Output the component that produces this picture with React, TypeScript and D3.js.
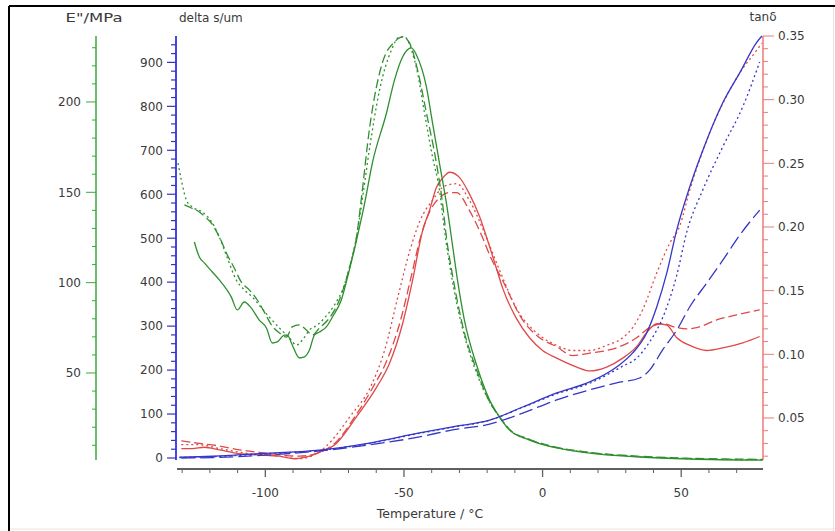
import React from "react";
import * as d3 from "d3";

// ---- data (temperature °C, value) ----
const greenTail: [number, number][] = [[-11.9, 18.4], [-4.7, 12.9], [5.1, 8.5], [17.0, 5.7], [35.0, 3.5], [53.1, 2.4], [79.4, 1.8]];

const greenSolid: [number, number][] = [
  [-125.6, 122.5], [-123.8, 114.2], [-122.0, 110.9], [-119.1, 105.9], [-116.6, 101.5], [-112.3, 92.1], [-110.1, 84.9],
  [-107.6, 89.3], [-105.1, 86.0], [-102.2, 79.3], [-99.6, 74.9], [-97.5, 66.6], [-95.7, 67.2], [-93.1, 71.0], [-92.1, 71.0],
  [-90.3, 65.5], [-87.7, 58.3], [-85.9, 58.9], [-84.1, 62.7], [-82.3, 71.0], [-80.5, 72.7], [-78.0, 75.5], [-75.8, 81.0],
  [-72.6, 90.4], [-69.7, 107.0], [-67.1, 123.6], [-64.3, 143.0], [-61.4, 166.2], [-56.3, 193.9], [-53.4, 212.2],
  [-50.5, 224.9], [-47.3, 229.9], [-45.5, 226.0], [-41.9, 208.3], [-39.7, 188.4], [-37.2, 166.2], [-34.7, 144.1],
  [-32.5, 120.9], [-30.7, 101.5], [-28.2, 79.3], [-23.8, 54.4], [-19.1, 35.0], [-15.5, 25.6],
];
const greenDashed: [number, number][] = [
  [-129.2, 143.0], [-126.7, 141.3], [-123.8, 139.1], [-121.3, 135.8], [-119.5, 133.0], [-116.6, 125.3], [-113.7, 115.3],
  [-111.2, 108.1], [-108.7, 100.4], [-105.8, 96.0], [-102.9, 90.4], [-100.4, 83.8], [-97.8, 76.6], [-94.9, 72.1],
  [-92.4, 69.9], [-90.3, 75.5], [-87.7, 76.6], [-85.2, 73.8], [-83.0, 71.0], [-80.5, 74.9], [-76.9, 80.4], [-73.3, 90.4],
  [-69.7, 108.1], [-67.1, 125.3], [-65.3, 147.4], [-62.5, 184.5], [-57.8, 221.6], [-53.4, 233.2], [-50.5, 236.0],
  [-48.0, 232.7], [-45.1, 217.7], [-41.9, 193.9], [-38.3, 166.2], [-36.1, 144.1], [-34.7, 125.3], [-32.5, 104.2],
  [-28.9, 76.6], [-23.8, 51.7], [-19.1, 34.0], [-15.5, 25.6],
];
const greenDotted: [number, number][] = [
  [-131.5, 166.2], [-130.3, 156.8], [-128.5, 145.8], [-126.4, 141.9], [-122.7, 139.1], [-119.1, 133.0], [-116.6, 125.3],
  [-113.7, 113.7], [-110.5, 101.5], [-107.6, 96.0], [-104.7, 92.1], [-101.4, 86.0], [-98.6, 81.0], [-94.9, 74.9],
  [-91.3, 69.4], [-88.8, 65.5], [-86.6, 68.3], [-84.1, 73.8], [-81.2, 76.6], [-78.7, 80.4], [-75.1, 87.6], [-71.5, 98.7],
  [-69.0, 112.5], [-67.1, 125.3], [-65.3, 143.0], [-62.5, 173.4], [-58.8, 206.6], [-54.5, 228.8], [-51.6, 236.0],
  [-49.8, 236.0], [-47.3, 228.8], [-45.1, 216.1], [-42.6, 193.9], [-39.7, 169.6], [-37.2, 151.3], [-35.4, 129.2],
  [-32.9, 104.2], [-29.2, 76.6], [-24.2, 51.7], [-19.1, 34.0], [-15.5, 25.6],
];

const redSolid: [number, number][] = [
  [-130.3, 0.026], [-126.4, 0.026], [-122.0, 0.027], [-116.6, 0.025], [-109.4, 0.022], [-102.2, 0.021], [-94.9, 0.020],
  [-89.5, 0.018], [-85.9, 0.019], [-80.5, 0.023], [-74.4, 0.030], [-67.1, 0.051], [-59.9, 0.074], [-55.2, 0.093],
  [-50.5, 0.124], [-46.9, 0.158], [-43.3, 0.197], [-40.8, 0.213], [-38.3, 0.231], [-35.4, 0.240], [-33.6, 0.243],
  [-30.0, 0.239], [-26.4, 0.226], [-22.7, 0.208], [-20.2, 0.192], [-17.0, 0.170], [-14.4, 0.152], [-9.4, 0.128],
  [-4.7, 0.113], [0, 0.103], [5.1, 0.097], [12.3, 0.090], [17.0, 0.087], [23.1, 0.090], [28.9, 0.097], [33.9, 0.106],
  [37.5, 0.117], [41.2, 0.124], [44.8, 0.123], [48.4, 0.113], [53.1, 0.107], [59.2, 0.103], [65.0, 0.105], [72.2, 0.109],
  [78.3, 0.114],
];
const redDashed: [number, number][] = [
  [-130.3, 0.032], [-123.8, 0.030], [-116.6, 0.028], [-109.4, 0.025], [-102.2, 0.023], [-94.9, 0.021], [-87.7, 0.020],
  [-80.5, 0.023], [-74.5, 0.031], [-68.0, 0.050], [-61.5, 0.073], [-56.0, 0.096], [-51.2, 0.127], [-47.5, 0.160],
  [-44.0, 0.192], [-40.5, 0.213], [-37.2, 0.223], [-33.6, 0.227], [-31.0, 0.227], [-26.4, 0.213], [-21.7, 0.192],
  [-19.1, 0.178], [-14.4, 0.158], [-7.2, 0.127], [-1.1, 0.113], [5.1, 0.106], [10.8, 0.099], [17.0, 0.101], [23.1, 0.103],
  [28.9, 0.107], [33.9, 0.113], [38.6, 0.121], [43.3, 0.124], [48.4, 0.121], [52.0, 0.120], [55.6, 0.121], [62.8, 0.127],
  [70.0, 0.131], [78.3, 0.135],
];
const redDotted: [number, number][] = [
  [-130.3, 0.029], [-123.8, 0.029], [-116.6, 0.026], [-105.8, 0.022], [-94.9, 0.020], [-87.7, 0.018], [-78.5, 0.027],
  [-69.5, 0.051], [-61.5, 0.077], [-57.0, 0.103], [-52.2, 0.145], [-47.8, 0.182], [-44.2, 0.205], [-39.7, 0.221],
  [-35.4, 0.232], [-31.0, 0.234], [-26.4, 0.221], [-20.9, 0.195], [-15.5, 0.166], [-9.4, 0.136], [-1.1, 0.115],
  [5.1, 0.107], [10.8, 0.103], [17.0, 0.103], [23.1, 0.107], [28.9, 0.113], [32.5, 0.121], [36.1, 0.135], [41.2, 0.164],
  [45.8, 0.187], [49.5, 0.201], [53.1, 0.229], [59.2, 0.268], [65.0, 0.297], [71.1, 0.321], [77.3, 0.339], [79.1, 0.3445],
];

const blueSolid: [number, number][] = [
  [-131, 2], [-119.1, 4], [-98.6, 11], [-80.5, 18], [-62.5, 34], [-44.4, 57], [-32.5, 71], [-19.1, 86], [-7.2, 116],
  [5.1, 148], [17.0, 173], [26.7, 207], [32.5, 239], [37.5, 284], [41.2, 344], [44.8, 421], [48.4, 519], [53.1, 617],
  [59.2, 723], [65.0, 808], [71.1, 876], [77.3, 946], [79.1, 960],
];
const blueDotted: [number, number][] = [
  [-131, 1], [-119.1, 3], [-98.6, 10], [-80.5, 17], [-62.5, 33], [-44.4, 56], [-32.5, 70], [-19.1, 86], [-7.2, 115],
  [5.1, 146], [17.0, 170], [28.9, 209], [33.9, 227], [38.6, 264], [43.3, 319], [48.4, 416], [52.0, 514], [57.8, 610],
  [65.0, 708], [72.2, 799], [78.3, 901],
];
const blueDashed: [number, number][] = [
  [-130.3, 0], [-119.1, 1], [-98.6, 7], [-80.5, 16], [-62.5, 30], [-44.4, 48], [-32.5, 64], [-19.1, 77], [-7.2, 102],
  [5.1, 132], [17.0, 155], [26.7, 171], [35.0, 182], [38.6, 200], [43.3, 246], [48.4, 291], [53.1, 344], [59.2, 398],
  [65.0, 450], [71.1, 507], [78.3, 564],
];

// ---- ticks ----
const xMajor = [-100, -50, 0, 50];
const xMinor = d3.range(-130, 80, 10);
const eMajor = [50, 100, 150, 200];
const eMinor = d3.range(10, 240, 10);
const dMajor = d3.range(0, 1000, 100);
const dMinor = d3.range(20, 960, 20);
const rMajor = [0.05, 0.1, 0.15, 0.2, 0.25, 0.3, 0.35];
const rMinor = d3.range(2, 35, 1).map((v) => v / 100);

const GREEN = "#2f8f2f";
const BLUE = "#3535c8";
const RED = "#e04848";
const FONT = "DejaVu Sans, Verdana, sans-serif";
const TXT = "#3a3a3a";

export default function App() {
  const x = d3.scaleLinear().domain([-131.5, 79.5]).range([178, 763]);
  const yE = d3.scaleLinear().domain([1.85, 236.5]).range([460, 36]);
  const yD = d3.scaleLinear().domain([0, 960]).range([458, 36]);
  const yR = d3.scaleLinear().domain([0.017, 0.35]).range([460, 36]);

  const mk = (ys: d3.ScaleLinear<number, number>) =>
    d3.line<[number, number]>().x((d) => x(d[0])).y((d) => ys(d[1])).curve(d3.curveMonotoneX);
  const lE = mk(yE), lD = mk(yD), lR = mk(yR);

  const ax = { eX: 96, dX: 176, rX: 763, xY: 469 };
  const fmtR = (v: number) => v.toFixed(2);
  const near = (a: number, arr: number[]) => arr.some((b) => Math.abs(a - b) < 1e-9);

  const series = [
    { d: lR(redSolid), c: RED, dash: "" },
    { d: lR(redDashed), c: RED, dash: "9 4" },
    { d: lR(redDotted), c: RED, dash: "2 3" },
    { d: lE(greenSolid.concat(greenTail)), c: GREEN, dash: "" },
    { d: lE(greenDashed.concat(greenTail.map((p) => [p[0], p[1] + 0.4] as [number, number]))), c: GREEN, dash: "9 4" },
    { d: lE(greenDotted.concat(greenTail.map((p) => [p[0], p[1] + 0.2] as [number, number]))), c: GREEN, dash: "2 3" },
    { d: lD(blueSolid), c: BLUE, dash: "" },
    { d: lD(blueDashed), c: BLUE, dash: "14 5" },
    { d: lD(blueDotted), c: BLUE, dash: "2 3" },
  ];

  return (
    <svg width={835} height={531} style={{ position: "absolute", left: 0, top: 0, background: "#fff" }} fontFamily={FONT}>
      <rect x={0} y={0} width={835} height={531} fill="#fff" />
      {/* frame */}
      <line x1={9} y1={6} x2={835} y2={6} stroke="#000" strokeWidth={2} />
      <line x1={9} y1={6} x2={9} y2={531} stroke="#000" strokeWidth={2} />
      <line x1={10} y1={529} x2={835} y2={529} stroke="#e4e4e4" strokeWidth={1} />
      <line x1={833.5} y1={7} x2={833.5} y2={531} stroke="#e4e4e4" strokeWidth={1} />

      {/* axis titles */}
      <text x={94} y={22} fontSize={12} fill={TXT} textAnchor="middle" textLength={57} lengthAdjust="spacingAndGlyphs">E"/MPa</text>
      <text x={179} y={22} fontSize={12} fill={TXT}>delta s/um</text>
      <text x={763} y={21} fontSize={12} fill={TXT} textAnchor="middle">tanδ</text>
      <text x={430} y={518} fontSize={12.5} fill={TXT} textAnchor="middle">Temperature / °C</text>

      {/* green axis */}
      <g>
        <line x1={ax.eX} y1={yE.range()[0]} x2={ax.eX} y2={yE.range()[1]} stroke="#3aa83a" strokeWidth={1.5} />
        {eMinor.filter((v) => !near(v, eMajor) && v <= 236.5).map((v) => (
          <line key={"em" + v} x1={ax.eX - 4} x2={ax.eX} y1={yE(v)} y2={yE(v)} stroke="#3aa83a" />
        ))}
        {eMajor.map((v) => (
          <g key={"eM" + v}>
            <line x1={ax.eX - 10} x2={ax.eX} y1={yE(v)} y2={yE(v)} stroke="#3aa83a" />
            <text x={ax.eX - 15} y={yE(v)} dy="0.36em" fontSize={12} fill={TXT} textAnchor="end">{v}</text>
          </g>
        ))}
      </g>

      {/* blue axis */}
      <g>
        <line x1={ax.dX} y1={460} x2={ax.dX} y2={36} stroke="#4545e8" strokeWidth={2} />
        {dMinor.filter((v) => !near(v, dMajor)).map((v) => (
          <line key={"dm" + v} x1={ax.dX - 5} x2={ax.dX} y1={yD(v)} y2={yD(v)} stroke="#3535b8" strokeWidth={1.2} />
        ))}
        {dMajor.map((v) => (
          <g key={"dM" + v}>
            <line x1={ax.dX - 9} x2={ax.dX} y1={yD(v)} y2={yD(v)} stroke="#3535b8" strokeWidth={1.2} />
            <text x={ax.dX - 13} y={yD(v)} dy="0.36em" fontSize={12} fill={TXT} textAnchor="end">{v}</text>
          </g>
        ))}
      </g>

      {/* red axis */}
      <g>
        <line x1={ax.rX} y1={yR.range()[0]} x2={ax.rX} y2={yR.range()[1]} stroke="#ec7a7a" strokeWidth={1.5} />
        {rMinor.filter((v) => !near(v, rMajor)).map((v) => (
          <line key={"rm" + v} x1={ax.rX} x2={ax.rX + 5} y1={yR(v)} y2={yR(v)} stroke="#ec7a7a" />
        ))}
        {rMajor.map((v) => (
          <g key={"rM" + v}>
            <line x1={ax.rX} x2={ax.rX + 11} y1={yR(v)} y2={yR(v)} stroke="#ec7a7a" />
            <text x={ax.rX + 15} y={yR(v)} dy="0.36em" fontSize={12} fill={TXT}>{fmtR(v)}</text>
          </g>
        ))}
      </g>

      {/* x axis */}
      <g>
        <line x1={177} y1={ax.xY} x2={763} y2={ax.xY} stroke="#606060" strokeWidth={1.8} />
        {xMinor.filter((v) => !near(v, xMajor)).map((v) => (
          <line key={"xm" + v} x1={x(v)} x2={x(v)} y1={ax.xY} y2={ax.xY + 4} stroke="#606060" />
        ))}
        {xMajor.map((v) => (
          <g key={"xM" + v}>
            <line x1={x(v)} x2={x(v)} y1={ax.xY} y2={ax.xY + 8} stroke="#606060" strokeWidth={1.3} />
            <text x={x(v)} y={497} fontSize={12} fill={TXT} textAnchor="middle">{v}</text>
          </g>
        ))}
      </g>

      {/* curves */}
      {series.map((s, i) => (
        <path key={i} d={s.d || ""} fill="none" stroke={s.c} strokeWidth={1.3} strokeDasharray={s.dash || undefined} />
      ))}
    </svg>
  );
}
